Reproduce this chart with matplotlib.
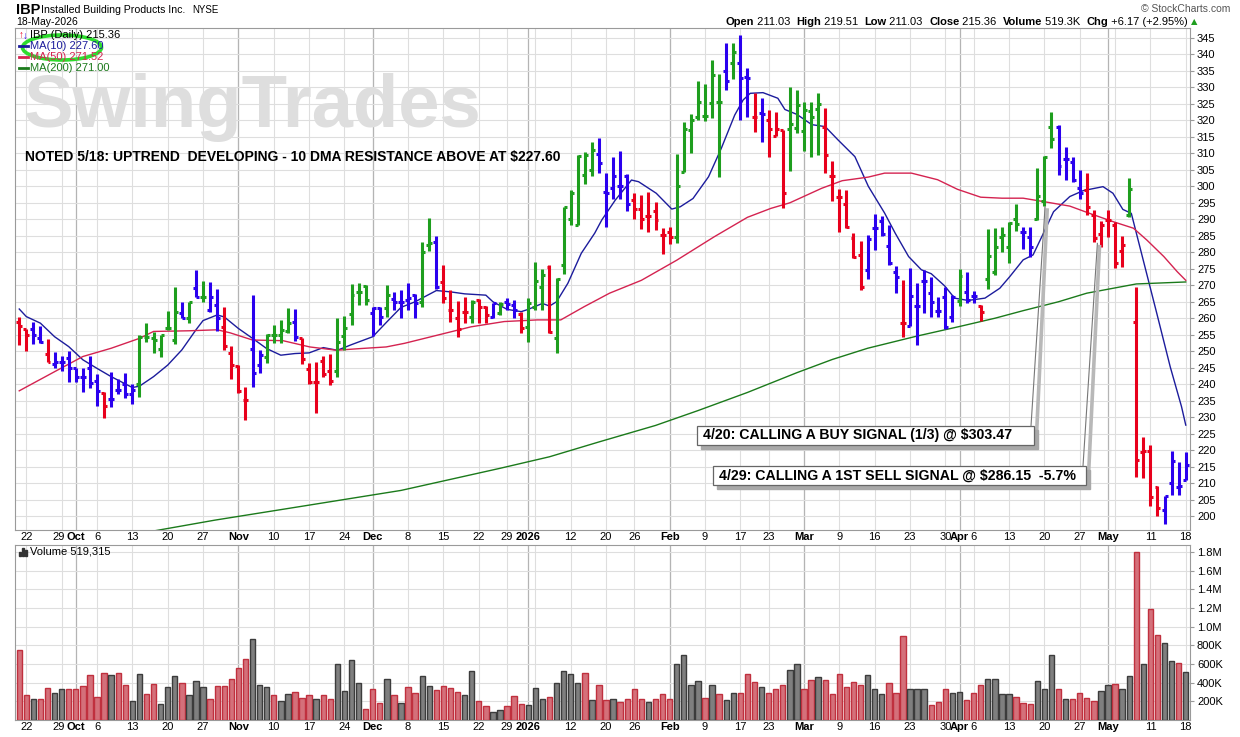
import numpy as np
import matplotlib
matplotlib.use("Agg")
import matplotlib.pyplot as plt
from matplotlib.patches import Ellipse, Rectangle
from matplotlib.lines import Line2D

plt.rcParams['font.family'] = ['Liberation Sans', 'DejaVu Sans']

W, H = 1240, 737

# daily bars, 19-Sep-2025 .. 18-May-2026 (166 sessions)
opens = [
    259, 256.8, 256.8, 254, 249.3, 246, 246.7, 248, 245, 242.2,
    245, 241, 237.3, 235.5, 238.2, 240.2, 237, 240.2, 254.2, 254,
    250.8, 257, 253.3, 261.5, 260, 269.3, 266.3, 262.5, 264, 257.2,
    249.5, 245.5, 235.2, 250.8, 245.8, 248.3, 254.9, 254.9, 256.2, 258.9,
    254.1, 244.5, 240.7, 247.1, 244, 244.1, 254.6, 261.3, 268, 269.7,
    261.7, 263, 263, 265.7, 265, 265.5, 267, 265, 282.2, 283.2,
    271.1, 262.5, 260, 262, 260.5, 265.5, 263.5, 260.5, 261.5, 265,
    264, 261.3, 257.4, 263.5, 269.6, 275.6, 253.9, 276.1, 290, 288.3,
    303.5, 305, 309.7, 298.4, 299.4, 300.2, 303.2, 296, 293, 291,
    292.6, 285.2, 286.2, 284.5, 304.4, 317, 320.9, 321.3, 325.4, 325.7,
    335.1, 337.5, 337.3, 333.2, 321.1, 322.1, 320.1, 315.2, 317, 317.3,
    317.8, 316.9, 322.7, 323.4, 318.1, 303, 296.7, 294.6, 284.3, 279.2,
    274.7, 287.3, 289.6, 282, 274, 258.5, 257.7, 263.7, 271.3, 267.6,
    262.3, 266.4, 260.5, 265.1, 268.1, 266.8, 263.7, 272, 274, 284.7,
    281.7, 290, 286, 284.5, 290, 295.4, 318.1, 318.1, 308.2, 307.5,
    299.4, 298.9, 291.3, 285.5, 289.8, 288.3, 280.5, 291.3, 259, 219.5,
    219.8, 208.9, 201.8, 210, 208.9, 211.03]
highs = [
    260.5, 256.8, 258.8, 257.5, 253.7, 249.7, 248.7, 250, 245, 245,
    248.5, 243, 237.5, 243.7, 241.5, 243.5, 240, 254.8, 258.5, 255.8,
    255, 262.3, 269.5, 265, 265, 274.5, 271.3, 271, 269, 263.3,
    251.5, 245.8, 239.2, 267, 250.5, 255.2, 258.1, 259.4, 263, 262.7,
    254.1, 246.3, 246.6, 248.6, 249.3, 260.2, 260.6, 270.4, 270.6, 270.1,
    263.5, 263.5, 270.1, 268, 268.5, 270.8, 267.4, 283.2, 290.3, 285,
    276.1, 268.6, 265.3, 266.5, 265.5, 265.7, 263.7, 264.7, 265, 266,
    265.5, 262, 266, 277.2, 274.8, 276.1, 272.1, 293.8, 299, 309.5,
    310.5, 313.5, 314.8, 304, 309, 310.7, 303.7, 297.9, 297.4, 298.2,
    295.3, 287.5, 287.7, 309.8, 319.6, 321.8, 332, 331, 338.3, 334,
    343.6, 343.6, 345.9, 335.8, 328.2, 326.7, 323, 322.6, 317.1, 330,
    329.3, 325.7, 325.7, 328.3, 323.7, 307.8, 299.1, 298.9, 285.8, 283.5,
    285.3, 291.7, 291, 288.3, 275.7, 271.6, 275.2, 270.6, 274.7, 272.4,
    266.4, 269.6, 267.1, 274.9, 273.9, 268.4, 264.1, 287, 287.5, 287.8,
    289.3, 294.6, 287.6, 287.8, 305.5, 309.2, 322.4, 318.6, 311.8, 309,
    305, 304, 292.8, 289.6, 292.8, 289.3, 284.9, 302.4, 269.4, 224.1,
    221.5, 209.1, 206.1, 219.8, 216.5, 219.51]
lows = [
    251.8, 250, 252.2, 252.5, 246.7, 245, 244, 240.7, 240.7, 237.5,
    239, 233.5, 229.8, 233, 237, 235.7, 234, 236.2, 252.7, 249.5,
    248.4, 256.3, 252.2, 260, 258.5, 266.3, 265, 262, 256.2, 250.3,
    241.7, 237.4, 229.1, 239.2, 243.3, 246.3, 252.4, 252.4, 255.4, 253.1,
    246, 240, 231.4, 242.1, 239.7, 242.2, 250.5, 258.1, 264, 264,
    254.6, 257.9, 260.4, 262.5, 260.2, 262.5, 260, 263.5, 280.5, 268.8,
    264.5, 259, 254.2, 258.5, 258.7, 258.7, 258.5, 260, 261, 262.5,
    260, 255.4, 252.9, 262.5, 262.5, 255.4, 249.4, 273.3, 288.3, 288.3,
    300.6, 303, 303.9, 287.7, 296.3, 296.3, 292.6, 290, 287.2, 286.2,
    286.7, 279.4, 282.4, 282.7, 304.4, 310, 320.1, 319.8, 320.6, 302.9,
    329.2, 332.4, 320.1, 321.1, 316.6, 313.5, 308.8, 315.2, 293.3, 304.7,
    316.1, 310.6, 308.8, 309.5, 304, 295.4, 286.3, 287.3, 278.2, 268.6,
    271.8, 280.7, 285, 276.2, 267.6, 254.4, 257.5, 251.9, 261.7, 260.3,
    260.3, 256.7, 259, 263.7, 264.5, 264.5, 259.2, 269, 273.2, 280.2,
    276.9, 286.6, 280.9, 278.5, 289.8, 294, 311.5, 303.4, 301.9, 301.4,
    296.1, 291.3, 283.2, 281.7, 284.5, 275.1, 275.6, 290.8, 211.9, 211.7,
    203, 200, 197.6, 206.4, 206.4, 211.03]
closes = [
    257.5, 255, 254.8, 252.7, 246.7, 246.7, 246.7, 245, 242.2, 242.2,
    240.5, 237.8, 233.3, 235.5, 238.2, 237, 238.2, 254.2, 254.2, 253.5,
    254.8, 257, 261.8, 260.2, 264.8, 266.3, 266.3, 266.3, 260, 251.5,
    245.8, 238, 235.2, 243.3, 248.8, 254.9, 254.9, 256.4, 258.6, 254.4,
    247.5, 240.7, 240.7, 243, 241, 252.9, 256.9, 267, 268, 265.5,
    263, 260.4, 267, 265, 265, 266, 264.5, 280.2, 282.7, 269.6,
    266, 262.5, 256.7, 262, 265, 263.5, 261, 264.5, 264.3, 264.3,
    262.5, 257, 264.5, 271.4, 273.1, 255.9, 271.8, 293.6, 298, 309.2,
    309.5, 311, 307, 297.9, 303.2, 300.2, 294.6, 293, 290, 291,
    289.8, 285.2, 284.5, 300.2, 317.3, 320.1, 325.7, 321.3, 333.8, 325.7,
    332, 340.8, 332.7, 332.7, 321.1, 321.9, 317.3, 317.3, 298, 318.8,
    324.7, 323, 321, 324.9, 309.5, 303, 296.7, 287.8, 278.7, 269.6,
    284, 287.3, 285.6, 276.9, 272.4, 258.5, 266.6, 263.7, 271.3, 264.8,
    262.3, 257.3, 266.4, 272.7, 265.6, 266.8, 262, 279, 281.5, 285.2,
    289, 288.6, 286, 281.7, 297.1, 308.8, 314.3, 306.2, 308.2, 301.9,
    298.1, 293.6, 284.2, 288.3, 289.8, 276.9, 282.2, 299.1, 217, 219.8,
    205.9, 202.6, 206.1, 216.8, 209.19, 215.36]
# bar colours as shown: g = green, b = blue, r = red
bar_colors = ("rrbbrbbbbb" "bbrbbbbggg" "gggbgbgbbr" "rrrbbggggb" "rrrrrggggg"
              "bbgbbbbggb" "rrrrgrrbgb" "brgggrgggg" "ggbbbbbrrr" "rrrggggggg"
              "bgbbrbrrrg" "ggggrrrrrr" "bbbbbrbbbb" "bbbgbbrggg" "ggbbgggbbb"
              "brrrrrrgrr" "rrbbbb")

# volume, thousands of shares
volume_k = [
    754, 265, 230, 223, 347, 294, 329, 336, 336, 361,
    478, 244, 506, 478, 506, 372, 202, 489, 276, 382,
    170, 350, 467, 400, 265, 414, 350, 223, 361, 361,
    435, 552, 658, 871, 372, 350, 265, 202, 276, 297,
    234, 265, 223, 265, 223, 605, 308, 648, 393, 117,
    329, 181, 435, 265, 181, 350, 287, 467, 361, 319,
    361, 340, 297, 265, 520, 202, 149, 85, 106, 149,
    255, 170, 159, 340, 223, 244, 393, 520, 489, 393,
    499, 212, 380, 210, 223, 188, 223, 336, 230, 198,
    223, 276, 230, 595, 697, 372, 414, 241, 372, 276,
    212, 294, 287, 496, 411, 358, 294, 329, 372, 538,
    602, 329, 425, 464, 425, 276, 496, 358, 411, 372,
    478, 336, 276, 400, 294, 903, 329, 329, 329, 159,
    198, 329, 294, 304, 219, 287, 372, 435, 435, 276,
    276, 251, 181, 170, 414, 329, 701, 329, 223, 223,
    287, 234, 202, 308, 372, 382, 329, 467, 1795, 595,
    1190, 913, 825, 627, 616, 519.315]
# u = close up (grey volume), d = close down (red volume)
vol_dir = ("ddudduuddd" "dddudduudd" "uuuduuuddd" "ddduuuduud" "ddudduuuud"
           "ddududduud" "ddduudduud" "dduuuduuuu" "dudduddddu" "ddduuuudud"
           "uudddudddu" "uddudddddd" "uuuddduuud" "dduuddduuu" "uddduuudud"
           "ddduuduudu" "dduudu")

# moving averages: (session index, value)
ma10_x = [0, 1, 3, 5, 7, 9, 11, 13, 15, 16, 17, 19, 21, 23, 25, 26, 28, 29, 31, 33,
          35, 37, 39, 41, 43, 45, 47, 50, 52, 54, 56, 59, 61, 63, 66, 67, 69, 71, 72, 74,
          75, 76, 77.6, 79.5, 81.4, 82.4, 84.3, 86.6, 87.6, 90.1, 92.3, 93.5, 95.3, 97.5,
          99.3, 101.2, 102.4, 103.4, 105.2, 107.3, 108.3, 110, 112.1, 114, 115.8, 118.2,
          120.1, 122.4, 123.9, 125.8, 127.6, 129, 130.9, 132.3, 134.2, 136.6, 138.7, 140.1,
          142, 143.4, 145.1, 146.3, 148.6, 150.5, 153.3, 154.7, 156.1, 157.3, 158.5, 160.9,
          162.8, 164.4, 165]
ma10_y = [262.8, 260.5, 258.5, 254.4, 251.4, 247.4, 244.8, 242.3, 240.1, 239.0, 239.4,
          242.3, 245.8, 250.4, 256.5, 259.3, 261.0, 260.4, 256.9, 253.9, 250.8, 248.8,
          249.3, 249.5, 251.1, 250.3, 252.0, 254.4, 258.9, 263.3, 265.0, 268.4, 268.0,
          267.4, 267.0, 265.0, 262.7, 262.0, 262.7, 264.5, 263.7, 265.0, 270.6, 279.7,
          285.8, 289.8, 295.8, 301.9, 301.4, 297.9, 293.1, 293.8, 296.3, 302.9, 311.5,
          321.6, 326.2, 328.2, 328.4, 326.7, 323.3, 321.8, 318.7, 318.1, 314.1, 309.0,
          300.0, 291.9, 285.8, 278.7, 274.7, 273.5, 269.8, 266.1, 265.4, 266.1, 269.1,
          272.6, 277.7, 279.2, 286.8, 292.3, 296.9, 298.7, 299.9, 297.9, 293.0, 291.8,
          281.7, 261.5, 245.3, 233.2, 227.6]
ma50_x = [0, 5, 9, 13, 17, 19, 24, 28, 29.8, 33, 37.3, 41.1, 44.9, 48.2, 51.9, 54.5, 59.2,
          63.9, 68.6, 73.3, 76.6, 79.9, 83.5, 88, 93, 98.3, 103, 106.3, 109, 113.5, 116.4,
          120.1, 122.4, 126.2, 129.9, 132.7, 136, 139, 142, 144.8, 148.6, 151.4, 154.7,
          157.6, 159.5, 161.9, 163.8, 165]
ma50_y = [238.0, 243.8, 248.4, 250.9, 253.9, 256.0, 256.2, 256.5, 255.6, 253.4, 253.2,
          251.3, 250.3, 250.8, 251.3, 252.4, 254.9, 257.4, 259.0, 259.5, 259.5, 263.5,
          267.6, 271.5, 277.6, 284.7, 290.6, 293.3, 295.0, 299.4, 301.7, 302.8, 304.0,
          304.0, 302.0, 299.1, 296.7, 296.4, 296.4, 295.4, 294.0, 291.8, 289.3, 287.3,
          283.7, 278.7, 274.1, 271.5]
ma200_x = [19, 27.7, 40, 54, 68, 75, 82, 90, 96, 103, 110, 115, 120, 127, 133, 138, 142,
           147, 151, 156, 158, 165]
ma200_y = [195.5, 198.8, 203.0, 207.8, 214.5, 218.0, 222.5, 227.5, 232.0, 237.5, 243.5,
           247.5, 250.9, 254.6, 257.5, 260.0, 262.3, 265.0, 267.6, 269.6, 270.4, 271.0]

# date axis
tick_idx = [1, 5.6, 8, 11, 16, 21, 26, 31, 36, 41, 46, 50, 55, 60, 65, 69, 72, 78, 83, 87,
            92, 97, 102, 106, 111, 116, 121, 126, 131, 133, 135, 140, 145, 150, 154, 160, 165]
tick_lbl = ['22', '29', 'Oct', '6', '13', '20', '27', 'Nov', '10', '17', '24', 'Dec', '8',
            '15', '22', '29', '2026', '12', '20', '26', 'Feb', '9', '17', '23', 'Mar', '9',
            '16', '23', '30', 'Apr', '6', '13', '20', '27', 'May', '11', '18']
month_lbl = {'Oct', 'Nov', 'Dec', '2026', 'Feb', 'Mar', 'Apr', 'May'}
week_idx = [1, 6, 11, 16, 21, 26, 31, 36, 41, 46, 50, 55, 60, 65, 69, 73, 78, 83, 87, 92,
            97, 102, 106, 111, 116, 121, 126, 131, 135, 140, 145, 150, 155, 160, 165]
month_idx = [8, 31, 50, 72, 92, 111, 133, 154]

price_ticks = np.arange(200, 346, 5)
vol_ticks = [200e3, 400e3, 600e3, 800e3, 1.0e6, 1.2e6, 1.4e6, 1.6e6, 1.8e6]
vol_tick_lbl = ['200K', '400K', '600K', '800K', '1.0M', '1.2M', '1.4M', '1.6M', '1.8M']


def fx(px):
    return px / W


def fy(py):
    return 1 - py / H


fig = plt.figure(figsize=(W / 100, H / 100), dpi=100, facecolor='white')
ax = fig.add_axes([fx(15), fy(530), fx(1190) - fx(15), fy(28) - fy(530)])
axv = fig.add_axes([fx(15), fy(720), fx(1190) - fx(15), fy(545) - fy(720)])

idx = np.arange(len(closes))
colmap = {'g': '#1e9e1e', 'b': '#2a00ee', 'r': '#e8001c'}
cols = [colmap[c] for c in bar_colors]

for a in (ax, axv):
    a.set_xlim(-0.6, 165.6)
    for w in week_idx:
        a.axvline(w, color='#dedede', lw=0.8, zorder=0.3)
    for m in month_idx:
        a.axvline(m, color='#b4b4b4', lw=0.9, zorder=0.4)
    a.grid(axis='y', color='#dedede', lw=0.8)
    a.set_axisbelow(True)
    for s in a.spines.values():
        s.set_color('#9a9a9a')
        s.set_linewidth(0.8)
    a.yaxis.tick_right()
    a.tick_params(axis='y', labelsize=8, length=3, color='#9a9a9a', pad=2)
    a.tick_params(axis='x', labelsize=8, length=0, pad=1.5)
    a.set_xticks(tick_idx)
    a.set_xticklabels(tick_lbl)
    for t in a.get_xticklabels():
        if t.get_text() in month_lbl:
            t.set_fontweight('bold')

# price panel
ax.set_ylim(195.8, 348)
ax.set_yticks(price_ticks)
ax.vlines(idx, lows, highs, colors=cols, lw=2.2, capstyle='butt', zorder=3)
ax.hlines(opens, idx - 0.42, idx, colors=cols, lw=2.2, zorder=3)
ax.hlines(closes, idx, idx + 0.42, colors=cols, lw=2.2, zorder=3)
ax.plot(ma10_x, ma10_y, color='#1c1c9c', lw=1.0, zorder=2)
ax.plot(ma50_x, ma50_y, color='#d42350', lw=1.0, zorder=2)
ax.plot(ma200_x, ma200_y, color='#1b7a1b', lw=1.0, zorder=2)

ax.text(fx(24), fy(127), 'SwingTrades', transform=fig.transFigure, fontsize=53.5,
        fontweight='bold', color='#dedede', va='baseline', ha='left', zorder=0.6)
ax.text(fx(25), fy(157), 'NOTED 5/18: UPTREND  DEVELOPING - 10 DMA RESISTANCE ABOVE AT $227.60',
        transform=fig.transFigure, fontsize=10, fontweight='bold', va='center', ha='left',
        zorder=6)

# volume panel
axv.set_ylim(0, 1.875e6)
axv.set_yticks(vol_ticks)
axv.set_yticklabels(vol_tick_lbl)
vol = np.array(volume_k) * 1000
vfill = ['#d4707a' if d == 'd' else '#7f7f7f' for d in vol_dir]
vedge = ['#c0303e' if d == 'd' else '#3c3c3c' for d in vol_dir]
axv.bar(idx, vol, width=0.76, color=vfill, edgecolor=vedge, linewidth=1.0, zorder=3)
fig.text(fx(30), fy(552), 'Volume 519,315', fontsize=8, va='center', ha='left')
for i, hh in enumerate([4, 8, 6]):
    fig.patches.append(Rectangle((fx(19 + i * 3), fy(556)), fx(2), hh / H,
                                 transform=fig.transFigure, color='#333', figure=fig))

# header
fig.text(fx(16), fy(10), 'IBP', fontsize=10.5, fontweight='bold', va='center', ha='left')
fig.text(fx(41), fy(10), 'Installed Building Products Inc.', fontsize=7.6, va='center',
         ha='left')
fig.text(fx(192), fy(10), 'NYSE', fontsize=7, va='center', ha='left')
fig.text(fx(16), fy(22), '18-May-2026', fontsize=7.5, va='center', ha='left')
fig.text(fx(1230), fy(9), '\u00a9 StockCharts.com', fontsize=7.5, color='#555',
         va='center', ha='right')

renderer = fig.canvas.get_renderer()
pieces = [('Open', 'bold'), (' 211.03  ', 'normal'), ('High', 'bold'), (' 219.51  ', 'normal'),
          ('Low', 'bold'), (' 211.03  ', 'normal'), ('Close', 'bold'), (' 215.36  ', 'normal'),
          ('Volume', 'bold'), (' 519.3K  ', 'normal'), ('Chg', 'bold'),
          (' +6.17 (+2.95%) ', 'normal')]
xp = 725
for s, wgt in pieces:
    t = fig.text(fx(xp), fy(22), s, fontsize=8, fontweight=wgt, va='center', ha='left')
    xp += t.get_window_extent(renderer).width
fig.text(fx(xp), fy(22), '\u25b2', fontsize=6, color='#1e9e1e', va='center', ha='left',
         family=['DejaVu Sans'])

# legend inside price panel
fig.text(fx(19), fy(35), '\u2191', fontsize=7, color='#e8001c', va='center', ha='left')
fig.text(fx(23), fy(36), '\u2193', fontsize=7, color='#2a00ee', va='center', ha='left')
fig.text(fx(30), fy(35), 'IBP (Daily) 215.36', fontsize=8, va='center', ha='left')
for yy, lbl, c in [(46, 'MA(10) 227.60', '#1c1c9c'), (57, 'MA(50) 271.52', '#d42350'),
                   (68, 'MA(200) 271.00', '#1b7a1b')]:
    fig.lines.append(Line2D([fx(19), fx(28)], [fy(yy), fy(yy)], transform=fig.transFigure,
                            color=c, lw=2, figure=fig))
    fig.text(fx(30), fy(yy), lbl, fontsize=8, color=c, va='center', ha='left')
fig.patches.append(Ellipse((fx(62), fy(47.5)), fx(79), 25 / H, transform=fig.transFigure,
                           fill=False, edgecolor='#2edc2e', lw=2.6, figure=fig))

# call-out boxes
to_fig = fig.transFigure.inverted()


def data_to_fig(x, y):
    return to_fig.transform(ax.transData.transform((x, y)))


def callout(x0, y0, x1, y1, text, start, target, sh_start, sh_target):
    p = data_to_fig(*sh_target)
    ax.add_line(Line2D([fx(sh_start[0]), p[0]], [fy(sh_start[1]), p[1]],
                       transform=fig.transFigure, color='#b8b8b8', lw=2.6, zorder=5,
                       clip_on=False))
    ax.add_patch(Rectangle((fx(x0 + 4), fy(y1 + 4)), fx(x1 - x0), (y1 - y0) / H,
                           transform=fig.transFigure, color='#a8a8a8', zorder=5.5,
                           clip_on=False))
    ax.add_patch(Rectangle((fx(x0), fy(y1)), fx(x1 - x0), (y1 - y0) / H,
                           transform=fig.transFigure, facecolor='white', edgecolor='#666',
                           lw=0.9, zorder=6, clip_on=False))
    q = data_to_fig(*target)
    ax.add_line(Line2D([fx(start[0]), q[0]], [fy(start[1]), q[1]],
                       transform=fig.transFigure, color='#777', lw=0.8, zorder=6.5,
                       clip_on=False))
    ax.text(fx(x0 + 6), fy((y0 + y1) / 2), text, transform=fig.transFigure, fontsize=10.2,
            fontweight='bold', va='center', ha='left', zorder=7)


callout(697, 426, 1034, 445, '4/20: CALLING A BUY SIGNAL (1/3) @ $303.47',
        (1031, 426), (145.1, 293.8), (1036, 446), (145.4, 292.8))
callout(713, 466, 1086, 485, '4/29: CALLING A 1ST SELL SIGNAL @ $286.15  -5.7%',
        (1083, 466), (152.5, 282.7), (1088, 486), (152.8, 281.7))

fig.savefig('out.png', dpi=100, facecolor='white')
